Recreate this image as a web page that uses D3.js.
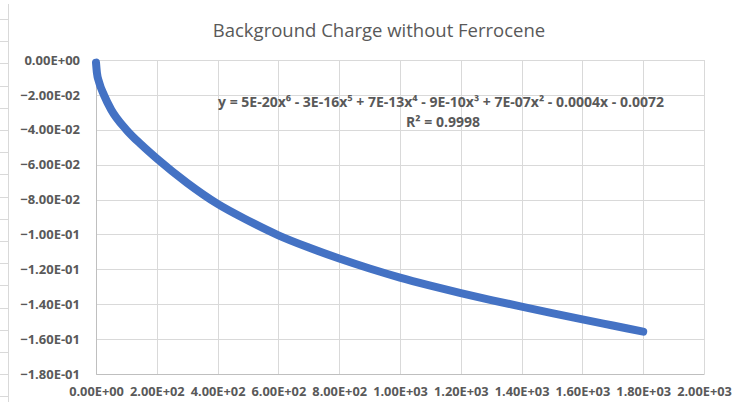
<!DOCTYPE html>
<html><head><meta charset="utf-8">
<script src="https://cdn.jsdelivr.net/npm/d3@7"></script>
<style>
html,body{margin:0;padding:0;background:#fff;}
svg{display:block;}
text{font-family:"Open Sans","Liberation Sans",sans-serif;fill:#595959;}
</style></head>
<body>
<svg id="chart" width="740" height="406"></svg>
<script>
// ---- data ----
const title = "Background Charge without Ferrocene";
const xTicks = [0,200,400,600,800,1000,1200,1400,1600,1800,2000];
const yTicks = [0,-0.02,-0.04,-0.06,-0.08,-0.10,-0.12,-0.14,-0.16,-0.18];
const xValues = [0,3,10,26,50,100,150,200,300,400,500,600,700,800,900,1000,1100,1200,1300,1400,1500,1600,1700,1800];
const yValues = [-0.0015,-0.0073,-0.0126,-0.020,-0.0285,-0.040,-0.0487,-0.0565,-0.0705,-0.0825,-0.092,-0.1005,-0.1075,-0.1138,-0.1195,-0.1247,-0.1293,-0.1336,-0.1376,-0.1414,-0.1451,-0.1487,-0.1522,-0.1557];
const equationLine = "y = 5E-20x⁶ - 3E-16x⁵ + 7E-13x⁴ - 9E-10x³ + 7E-07x² - 0.0004x - 0.0072";
const r2Line = "R² = 0.9998";

const svg = d3.select("#chart");
const L = 96, R = 704, T = 60, B = 374;
const x = d3.scaleLinear().domain([0,2000]).range([L,R]);
const y = d3.scaleLinear().domain([-0.18,0]).range([B,T]);

// spreadsheet edge decoration
svg.append("line").attr("x1",8.5).attr("x2",8.5).attr("y1",4).attr("y2",402)
  .attr("stroke","#d9d9d9");
d3.range(19,402,22.2).forEach(v=>{
  svg.append("line").attr("x1",0).attr("x2",8).attr("y1",Math.round(v)+0.5).attr("y2",Math.round(v)+0.5)
    .attr("stroke","#d9d9d9");
});

const fmt = v => {
  if (v === 0) return "0.00E+00";
  let s = d3.format(".2e")(v);
  let [m,e] = s.split("e");
  let sign = e[0]==="-"?"-":"+";
  let n = Math.abs(+e);
  return m + "E" + sign + (n<10?"0":"") + n;
};

// gridlines
const g = svg.append("g");
g.selectAll(".hg").data(yTicks).join("line")
  .attr("x1",L).attr("x2",R)
  .attr("y1",d=>Math.round(y(d))+0.5).attr("y2",d=>Math.round(y(d))+0.5)
  .attr("stroke","#d9d9d9").attr("stroke-width",1);
g.selectAll(".vg").data(xTicks).join("line")
  .attr("y1",T).attr("y2",B)
  .attr("x1",d=>Math.round(x(d))+0.5).attr("x2",d=>Math.round(x(d))+0.5)
  .attr("stroke","#d9d9d9").attr("stroke-width",1);

// axes via d3
const yAxis = d3.axisLeft(y).tickValues(yTicks).tickFormat(fmt).tickSize(0).tickPadding(16);
const ya = svg.append("g").attr("transform",`translate(${L},0)`).call(yAxis);
ya.select(".domain").attr("stroke","#bfbfbf");
ya.selectAll("text").attr("font-size","13px").attr("font-weight","bold").attr("fill","#595959")
  .style("font-family","'Open Sans',sans-serif");

const xAxis = d3.axisBottom(x).tickValues(xTicks).tickFormat(fmt).tickSize(0).tickPadding(13);
const xa = svg.append("g").attr("transform",`translate(0,${B})`).call(xAxis);
xa.select(".domain").attr("stroke","#bfbfbf");
xa.selectAll("text").attr("font-size","12.8px").attr("font-weight","bold").attr("fill","#595959")
  .style("font-family","'Open Sans',sans-serif");

// series
const pts = xValues.map((v,i)=>[v,yValues[i]]);
const line = d3.line().x(d=>x(d[0])).y(d=>y(d[1])).curve(d3.curveMonotoneX);
svg.append("path").attr("d",line(pts)).attr("fill","none")
  .attr("stroke","#4472c4").attr("stroke-width",8)
  .attr("stroke-linecap","round").attr("stroke-linejoin","round");

// title
svg.append("text").attr("x",379).attr("y",37).attr("text-anchor","middle")
  .attr("font-size","18.5px").text(title);

// trendline label
svg.append("text").attr("x",441).attr("y",107).attr("text-anchor","middle")
  .attr("font-size","14px").attr("font-weight","bold").text(equationLine);
svg.append("text").attr("x",443).attr("y",127).attr("text-anchor","middle")
  .attr("font-size","14px").attr("font-weight","bold").text(r2Line);
</script>
</body></html>
